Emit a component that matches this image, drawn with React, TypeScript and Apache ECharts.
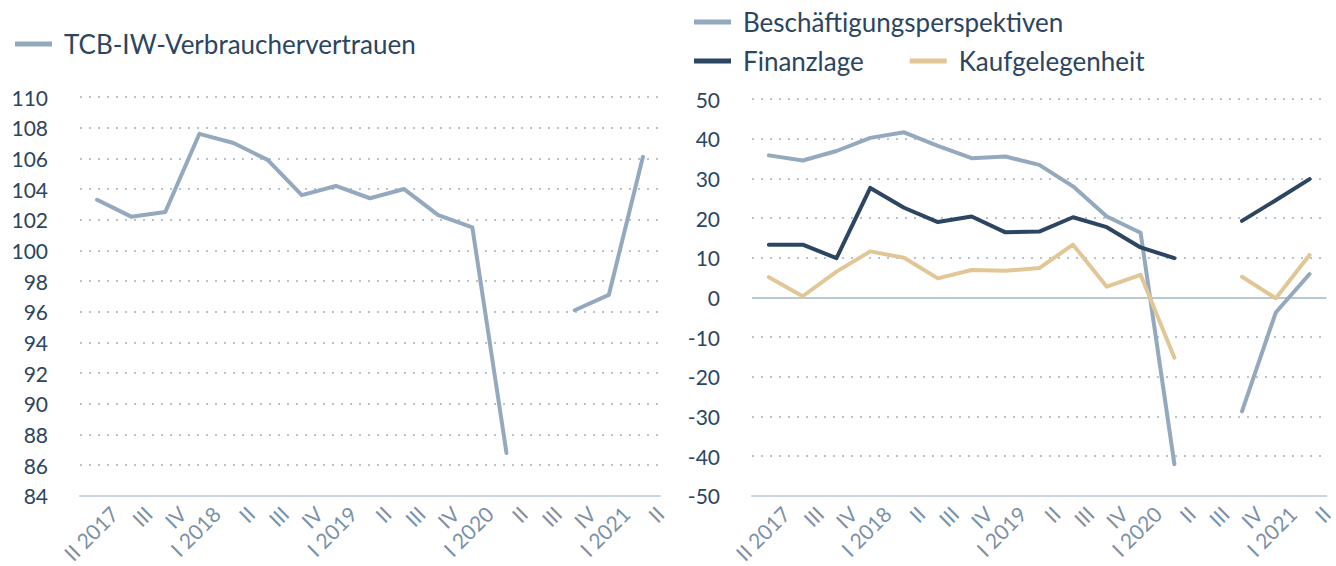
import React, { useEffect, useRef } from "react";
import * as echarts from "echarts";

const quarters = ["II 2017", "III", "IV", "I 2018", "II", "III", "IV", "I 2019", "II", "III", "IV", "I 2020", "II", "III", "IV", "I 2021", "II"];

const verbrauchervertrauen = [103.3, 102.2, 102.5, 107.6, 107.0, 105.9, 103.6, 104.2, 103.4, 104.0, 102.3, 101.5, 86.8, null, 96.1, 97.1, 106.1];

const beschaeftigung = [35.8, 34.5, 36.9, 40.2, 41.6, 38.2, 35.1, 35.5, 33.4, 28.0, 20.4, 16.3, -42.0, null, -28.7, -3.8, 5.9];
const finanzlage = [13.3, 13.3, 9.9, 27.6, 22.6, 19.0, 20.4, 16.4, 16.6, 20.2, 17.7, 12.6, 9.9, null, 19.3, 24.5, 29.8];
const kaufgelegenheit = [5.1, 0.3, 6.5, 11.6, 10.0, 4.8, 6.9, 6.7, 7.4, 13.3, 2.7, 5.7, -15.2, null, 5.2, -0.2, 10.7];

const leftTicks = { min: 84, max: 110, interval: 2 };
const rightTicks = { min: -50, max: 50, interval: 10 };

const FONT = "Lato";
const DARK = "#2c4560";
const LIGHT = "#94a9be";
const TAN = "#e2c796";
const LABEL_GREY = "#7c91a5";
const GRID_DOT = "#b5c4d3";
const AXIS_LINE = "#c9d5e6";

export default function App() {
  const ref = useRef<HTMLDivElement>(null);

  useEffect(() => {
    if (!ref.current) return;
    const chart = echarts.init(ref.current, undefined, { renderer: "svg" });

    const labelCats = ["", ...quarters];

    const yAxisBase = (t: { min: number; max: number; interval: number }, gridIndex: number) => ({
      type: "value",
      gridIndex,
      min: t.min,
      max: t.max,
      interval: t.interval,
      axisLine: { show: false },
      axisTick: { show: false },
      axisLabel: { color: DARK, fontFamily: FONT, fontSize: 21, margin: 32 },
      splitLine: { show: true, lineStyle: { color: GRID_DOT, type: [2, 7], width: 2 } },
    });

    const dataXAxis = (gridIndex: number) => ({
      type: "category",
      gridIndex,
      data: quarters,
      boundaryGap: true,
      axisLine: { show: true, onZero: false, lineStyle: { color: AXIS_LINE, width: 2 } },
      axisTick: { show: false },
      axisLabel: { show: false },
      splitLine: { show: false },
    });

    const labelXAxis = (gridIndex: number) => ({
      type: "category",
      gridIndex,
      data: labelCats,
      boundaryGap: false,
      position: "bottom",
      axisLine: { show: false },
      axisTick: { show: false },
      axisLabel: {
        show: true,
        interval: 0,
        rotate: 45,
        margin: 14,
        color: LABEL_GREY,
        fontFamily: FONT,
        fontSize: 21,
      },
      splitLine: { show: false },
    });

    const lineSeries = (name: string, data: (number | null)[], color: string, xAxisIndex: number, yAxisIndex: number, extra: any = {}) => ({
      type: "line",
      name,
      data,
      xAxisIndex,
      yAxisIndex,
      symbol: "none",
      connectNulls: false,
      lineStyle: { color, width: 4, cap: "round", join: "round" },
      itemStyle: { color },
      z: 3,
      ...extra,
    });

    const legendText = { color: DARK, fontFamily: FONT, fontSize: 26, padding: [0, 0, 0, 7] };

    chart.setOption({
      animation: false,
      backgroundColor: "#ffffff",
      textStyle: { fontFamily: FONT },
      legend: [
        {
          data: ["TCB-IW-Verbrauchervertrauen"],
          left: 10,
          top: 26,
          icon: "rect",
          itemWidth: 37,
          itemHeight: 5,
          textStyle: legendText,
          selectedMode: false,
        },
        {
          data: ["Beschäftigungsperspektiven"],
          left: 689,
          top: 4,
          icon: "rect",
          itemWidth: 37,
          itemHeight: 5,
          textStyle: legendText,
          selectedMode: false,
        },
        {
          data: ["Finanzlage", "Kaufgelegenheit"],
          left: 689,
          top: 43,
          icon: "rect",
          itemWidth: 37,
          itemHeight: 5,
          itemGap: 46,
          textStyle: legendText,
          selectedMode: false,
        },
      ],
      grid: [
        { left: 80, top: 97, width: 580, height: 407, containLabel: false },
        { left: 752, top: 99, width: 582, height: 405, containLabel: false },
      ],
      xAxis: [dataXAxis(0), labelXAxis(0), dataXAxis(1), labelXAxis(1)],
      yAxis: [yAxisBase(leftTicks, 0), yAxisBase(rightTicks, 1)],
      series: [
        lineSeries("TCB-IW-Verbrauchervertrauen", verbrauchervertrauen, LIGHT, 0, 0),
        lineSeries("Beschäftigungsperspektiven", beschaeftigung, LIGHT, 2, 1, {
          markLine: {
            silent: true,
            symbol: "none",
            label: { show: false },
            lineStyle: { color: "#b8c8d5", width: 2, type: "solid" },
            data: [{ yAxis: 0 }],
            z: 1,
          },
        }),
        lineSeries("Finanzlage", finanzlage, DARK, 2, 1),
        lineSeries("Kaufgelegenheit", kaufgelegenheit, TAN, 2, 1),
      ],
    });

    return () => chart.dispose();
  }, []);

  return (
    <div
      ref={ref}
      style={{ position: "fixed", left: 0, top: 0, width: 1336, height: 566, background: "#fff" }}
    />
  );
}
